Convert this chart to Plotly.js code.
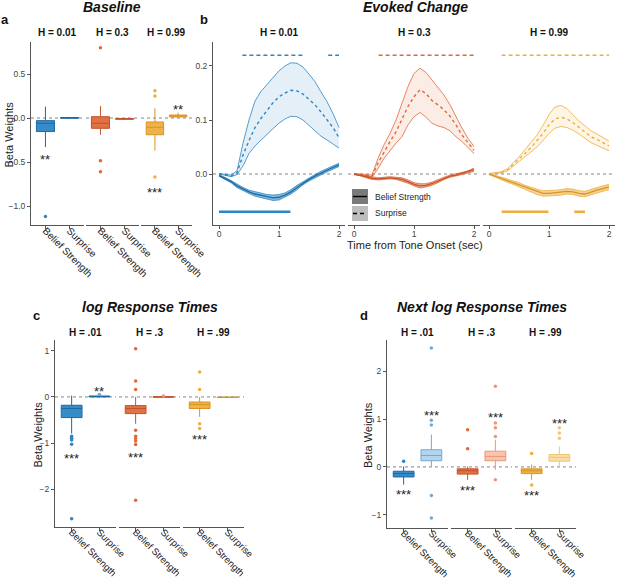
<!DOCTYPE html>
<html>
<head>
<meta charset="utf-8">
<script src="https://cdn.plot.ly/plotly-3.0.1.min.js"></script>
<style>html,body{margin:0;padding:0;background:#fff;}#chart{width:617px;height:578px;}</style>
</head>
<body>
<div id="chart"></div>
<script>
// ---------------- DATA ----------------
const hLabels = ['H = 0.01', 'H = 0.3', 'H = 0.99'];
const hLabelsRT = ['H = .01', 'H = .3', 'H = .99'];
const variables = ['Belief Strength', 'Surprise'];
const hColors = ['#2C86C4', '#E0693A', '#EEAE3E'];
const hLines = ['#1C6AA3', '#C2532A', '#D89425'];
const hLight = ['#B5D5EC', '#F5C5B0', '#F9DDA7'];
const hLightLine = ['#6FAAD6', '#EA9677', '#F2C66E'];

// Panel a: Baseline  -> per H: [Belief Strength, Surprise]
const baseLower = [[-0.33, -0.003], [-0.19, -0.018], [-0.37, 0.004]];
const baseQ1 = [[-0.154, -0.002], [-0.117, -0.014], [-0.19, 0.012]];
const baseMed = [[-0.06, 0.002], [-0.06, -0.010], [-0.105, 0.024]];
const baseQ3 = [[-0.03, 0.006], [0.015, -0.006], [-0.045, 0.034]];
const baseUpper = [[0.13, 0.009], [0.135, -0.003], [0.11, 0.06]];
const baseOut = [[[-1.12], []], [[0.80, -0.485, -0.61], []], [[0.31, 0.25, -0.67], []]];
const baseStars = [['**', ''], ['', ''], ['***', '**']];
const baseStarY = [[-0.44, 0], [0, 0], [-0.81, 0.13]];

// Panel b: Evoked change time courses
const timeSec = [0, 0.1, 0.2, 0.3, 0.4, 0.5, 0.6, 0.7, 0.8, 0.9, 1.0, 1.1, 1.2, 1.3, 1.4, 1.5, 1.6, 1.7, 1.8, 1.9, 2.0];
const surMean = [
  [0, -0.002, -0.004, 0.002, 0.035, 0.062, 0.086, 0.103, 0.118, 0.132, 0.143, 0.150, 0.155, 0.154, 0.148, 0.138, 0.128, 0.115, 0.101, 0.086, 0.067],
  [0, -0.001, -0.003, -0.004, 0.020, 0.041, 0.060, 0.078, 0.100, 0.125, 0.143, 0.156, 0.149, 0.136, 0.128, 0.119, 0.107, 0.091, 0.072, 0.057, 0.044],
  [0, 0.001, 0.003, 0.007, 0.017, 0.027, 0.038, 0.049, 0.061, 0.075, 0.091, 0.102, 0.105, 0.102, 0.095, 0.086, 0.078, 0.069, 0.064, 0.058, 0.052]
];
const surUpper = [
  [0.001, 0, -0.002, 0.006, 0.057, 0.100, 0.135, 0.153, 0.166, 0.179, 0.191, 0.200, 0.206, 0.205, 0.198, 0.185, 0.171, 0.152, 0.134, 0.112, 0.086],
  [0.001, 0, -0.002, -0.002, 0.029, 0.054, 0.075, 0.100, 0.131, 0.162, 0.186, 0.196, 0.188, 0.174, 0.162, 0.146, 0.128, 0.106, 0.085, 0.066, 0.051],
  [0.001, 0.002, 0.004, 0.009, 0.020, 0.032, 0.045, 0.058, 0.072, 0.090, 0.110, 0.124, 0.127, 0.121, 0.109, 0.098, 0.089, 0.080, 0.074, 0.067, 0.061]
];
const surLower = [
  [-0.001, -0.002, -0.005, -0.001, 0.015, 0.038, 0.052, 0.063, 0.073, 0.084, 0.094, 0.102, 0.107, 0.106, 0.100, 0.090, 0.080, 0.070, 0.063, 0.056, 0.048],
  [-0.001, -0.002, -0.004, -0.006, 0.010, 0.029, 0.044, 0.057, 0.069, 0.091, 0.106, 0.114, 0.105, 0.094, 0.089, 0.086, 0.080, 0.069, 0.060, 0.049, 0.038],
  [-0.001, 0, 0.002, 0.005, 0.014, 0.022, 0.031, 0.040, 0.050, 0.062, 0.075, 0.085, 0.088, 0.086, 0.081, 0.074, 0.066, 0.058, 0.053, 0.048, 0.043]
];
const belMean = [
  [-0.003, -0.008, -0.014, -0.022, -0.028, -0.033, -0.037, -0.040, -0.042, -0.044, -0.043, -0.039, -0.033, -0.025, -0.017, -0.010, -0.004, 0.002, 0.007, 0.012, 0.017],
  [0, -0.002, -0.005, -0.008, -0.009, -0.008, -0.007, -0.008, -0.010, -0.014, -0.019, -0.022, -0.021, -0.018, -0.013, -0.008, -0.004, -0.002, 0.001, 0.004, 0.008],
  [0, -0.004, -0.008, -0.012, -0.016, -0.020, -0.025, -0.029, -0.033, -0.036, -0.036, -0.035, -0.034, -0.032, -0.033, -0.036, -0.037, -0.033, -0.030, -0.027, -0.024]
];
const belSE = [
  [0.001, 0.002, 0.002, 0.003, 0.003, 0.003, 0.004, 0.004, 0.004, 0.005, 0.005, 0.004, 0.004, 0.004, 0.003, 0.003, 0.003, 0.003, 0.003, 0.003, 0.003],
  [0.001, 0.001, 0.002, 0.002, 0.002, 0.002, 0.002, 0.002, 0.003, 0.003, 0.003, 0.004, 0.003, 0.003, 0.003, 0.002, 0.002, 0.002, 0.002, 0.002, 0.003],
  [0.001, 0.002, 0.002, 0.003, 0.003, 0.004, 0.004, 0.004, 0.005, 0.005, 0.005, 0.005, 0.005, 0.005, 0.005, 0.005, 0.005, 0.005, 0.005, 0.005, 0.005]
];
const sigSur = [[[0.39, 1.39], [1.82, 2.0]], [[0.41, 2.0]], [[0.21, 2.0]]];
const sigBel = [[[0, 1.19]], [], [[0.21, 0.99], [1.42, 1.6]]];
const sigSurLevel = 0.22;
const sigBelLevel = -0.07;

// Panel c: log Response Times
const rtLower = [[-0.79, -0.005], [-0.58, -0.01], [-0.43, -0.02]];
const rtQ1 = [[-0.446, 0.0], [-0.36, -0.005], [-0.25, -0.012]];
const rtMed = [[-0.25, 0.01], [-0.25, 0.0], [-0.165, -0.008]];
const rtQ3 = [[-0.18, 0.02], [-0.187, 0.005], [-0.11, -0.004]];
const rtUpper = [[0.03, 0.03], [0.0, 0.01], [0.0, 0.0]];
const rtOut = [[[-0.85, -0.89, -0.93, -1.02, -2.63], [0.05]],
               [[1.04, 0.345, 0.16, -0.72, -0.85, -0.9, -0.95, -1.03, -2.23], [0.02]],
               [[0.54, 0.16, -0.58, -0.68], []]];
const rtStars = [['***', '**'], ['***', ''], ['***', '']];
const rtStarY = [[-1.26, 0.18], [-1.24, 0], [-0.86, 0]];

// Panel d: Next log Response Times
const nrtLower = [[-0.37, 0.01], [-0.27, -0.06], [-0.27, 0.01]];
const nrtQ1 = [[-0.21, 0.13], [-0.15, 0.13], [-0.14, 0.12]];
const nrtMed = [[-0.14, 0.24], [-0.08, 0.22], [-0.08, 0.20]];
const nrtQ3 = [[-0.09, 0.36], [-0.04, 0.33], [-0.04, 0.26]];
const nrtUpper = [[0.01, 0.68], [0.01, 0.57], [0.05, 0.43]];
const nrtOut = [[[0.12], [2.49, 0.98, 0.88, -0.6, -1.07]],
                [[0.78, 0.38], [1.69, 0.92, 0.82, 0.64, -0.27]],
                [[0.28, -0.38], [0.82, 0.71, 0.6]]];
const nrtStars = [['***', '***'], ['***', '***'], ['***', '***']];
const nrtStarY = [[-0.51, 1.15], [-0.44, 1.10], [-0.53, 0.97]];

// ---------------- LAYOUT HELPERS ----------------
const W = 617, H = 578;
const FONT = 'Liberation Sans, Arial, Helvetica, sans-serif';
const fx = p => p / W;
const fy = p => 1 - p / H;
const xName = n => n === 1 ? 'xaxis' : 'xaxis' + n;
const xRef = n => n === 1 ? 'x' : 'x' + n;
const yName = n => n === 1 ? 'yaxis' : 'yaxis' + n;
const yRef = n => n === 1 ? 'y' : 'y' + n;

const panels = [
  {letter: 'a', title: 'Baseline', kind: 'box', xs: [[31, 84], [86, 139], [141, 192]], ys: [42, 225], yr: [-1.216, 0.864],
   tv: [-1, -0.5, 0, 0.5], tf: '.1f', strips: hLabels, letterPos: [5, 20], titleX: 112, titleY: 7, stripY: 33, yTitleX: 9, tickSize: 10,
   lower: baseLower, q1: baseQ1, med: baseMed, q3: baseQ3, upper: baseUpper, out: baseOut, stars: baseStars, starY: baseStarY, lightSur: false},
  {letter: 'b', title: 'Evoked Change', kind: 'line', xs: [[213, 345], [348, 480], [483, 615]], ys: [42, 225], yr: [-0.0944, 0.2444],
   tv: [0, 0.1, 0.2], tf: '.1f', strips: hLabels, letterPos: [204, 20], titleX: 415, titleY: 7, stripY: 33},
  {letter: 'c', title: 'log Response Times', kind: 'box', xs: [[55, 116], [119, 180], [183, 244]], ys: [340, 527], yr: [-2.81, 1.23],
   tv: [-2, -1, 0, 1], tf: 'd', strips: hLabelsRT, letterPos: [36, 315], titleX: 150, titleY: 307, stripY: 333, yTitleX: 37, tickSize: 9.5,
   lower: rtLower, q1: rtQ1, med: rtMed, q3: rtQ3, upper: rtUpper, out: rtOut, stars: rtStars, starY: rtStarY, lightSur: false},
  {letter: 'd', title: 'Next log Response Times', kind: 'box', xs: [[387, 448], [451, 512], [515, 576]], ys: [340, 528], yr: [-1.28, 2.66],
   tv: [-1, 0, 1, 2], tf: 'd', strips: hLabelsRT, letterPos: [364, 315], titleX: 482, titleY: 307, stripY: 333, yTitleX: 368, tickSize: 9.5,
   lower: nrtLower, q1: nrtQ1, med: nrtMed, q3: nrtQ3, upper: nrtUpper, out: nrtOut, stars: nrtStars, starY: nrtStarY, lightSur: true}
];

const layout = {
  width: W, height: H, margin: {l: 0, r: 0, t: 0, b: 0},
  paper_bgcolor: '#fff', plot_bgcolor: 'rgba(0,0,0,0)',
  showlegend: false, hovermode: false, boxmode: 'overlay',
  font: {family: FONT, color: '#222'},
  shapes: [], annotations: []
};
const traces = [];

function rgba(hex, a) {
  const r = parseInt(hex.slice(1, 3), 16), g = parseInt(hex.slice(3, 5), 16), b = parseInt(hex.slice(5, 7), 16);
  return 'rgba(' + r + ',' + g + ',' + b + ',' + a + ')';
}

panels.forEach((P, pi) => {
  const yn = pi + 1;
  const yr = yRef(yn);
  const firstX = xRef(pi * 3 + 1);
  layout[yName(yn)] = {
    domain: [fy(P.ys[1]), fy(P.ys[0])], range: P.yr, anchor: firstX,
    showline: true, linecolor: '#555', linewidth: 1, ticks: 'outside', ticklen: 3, tickcolor: '#555',
    tickvals: P.tv, tickformat: P.tf, tickfont: {size: 8.5, color: '#444'},
    showgrid: false, zeroline: false, fixedrange: true
  };
  // panel title and letter
  layout.annotations.push({xref: 'paper', yref: 'paper', x: fx(P.titleX), y: fy(P.titleY), text: '<b><i>' + P.title + '</i></b>',
    showarrow: false, font: {size: 14, color: '#111'}, xanchor: 'center', yanchor: 'middle'});
  layout.annotations.push({xref: 'paper', yref: 'paper', x: fx(P.letterPos[0]), y: fy(P.letterPos[1]), text: '<b>' + P.letter + '</b>',
    showarrow: false, font: {size: 13, color: '#111'}, xanchor: 'center', yanchor: 'middle'});
  if (P.yTitleX !== undefined) {
    layout.annotations.push({xref: 'paper', yref: 'paper', x: fx(P.yTitleX), y: fy((P.ys[0] + P.ys[1]) / 2 + 1), text: 'Beta Weights',
      textangle: -90, showarrow: false, font: {size: 11, color: '#222'}, xanchor: 'center', yanchor: 'middle'});
  }

  for (let f = 0; f < 3; f++) {
    const xn = pi * 3 + f + 1;
    const xr = xRef(xn);
    const ax = {
      domain: [fx(P.xs[f][0]), fx(P.xs[f][1])], anchor: yr, type: 'linear',
      showline: true, linecolor: '#555', linewidth: 1, ticks: 'outside', ticklen: 3, tickcolor: '#555',
      showgrid: false, zeroline: false, fixedrange: true
    };
    if (P.kind === 'box') {
      Object.assign(ax, {range: [-0.6, 1.6], tickvals: [0, 1], ticktext: variables, tickangle: 45, ticklabelstandoff: -8,
        tickfont: {size: P.tickSize, color: '#222'}});
    } else {
      Object.assign(ax, {range: [-0.1, 2.1], tickvals: [0, 1, 2], ticklabelstandoff: -2, tickfont: {size: 8.5, color: '#444'}});
    }
    layout[xName(xn)] = ax;

    // strip label
    layout.annotations.push({xref: xr + ' domain', yref: 'paper', x: 0.5, y: fy(P.stripY), text: '<b>' + P.strips[f] + '</b>',
      showarrow: false, font: {size: 10, color: '#111'}, xanchor: 'center', yanchor: 'middle'});
    // dotted zero line
    layout.shapes.push({type: 'line', xref: xr + ' domain', x0: 0, x1: 1, yref: yr, y0: 0, y1: 0,
      line: {color: '#777', width: 0.9, dash: 'dot'}, layer: 'below'});

    if (P.kind === 'box') {
      for (let v = 0; v < 2; v++) {
        const light = P.lightSur && v === 1;
        const fill = light ? hLight[f] : rgba(hColors[f], 0.95);
        const lc = light ? hLightLine[f] : hLines[f];
        traces.push({
          type: 'box', xaxis: xr, yaxis: yr, x: [v],
          lowerfence: [P.lower[f][v]], q1: [P.q1[f][v]], median: [P.med[f][v]], q3: [P.q3[f][v]], upperfence: [P.upper[f][v]],
          width: 0.75, whiskerwidth: 0, fillcolor: fill, line: {color: lc, width: 1}, boxpoints: false, hoverinfo: 'skip'
        });
        const o = P.out[f][v];
        if (o.length) {
          traces.push({type: 'scatter', mode: 'markers', xaxis: xr, yaxis: yr, x: o.map(() => v), y: o,
            marker: {size: 3.5, color: (v === 1) ? hLightLine[f] : hColors[f]}, hoverinfo: 'skip'});
        }
        if (P.stars[f][v]) {
          layout.annotations.push({xref: xr, yref: yr, x: v, y: P.starY[f][v], text: P.stars[f][v], showarrow: false,
            font: {size: 13, color: '#222'}, xanchor: 'center', yanchor: 'middle', yshift: -3});
        }
      }
    } else {
      const c = hColors[f];
      // surprise ribbon
      traces.push({type: 'scatter', mode: 'lines', xaxis: xr, yaxis: yr, x: timeSec, y: surUpper[f],
        line: {color: c, width: 0.8}, hoverinfo: 'skip'});
      traces.push({type: 'scatter', mode: 'lines', xaxis: xr, yaxis: yr, x: timeSec, y: surLower[f], fill: 'tonexty',
        fillcolor: rgba(c, 0.13), line: {color: c, width: 0.8}, hoverinfo: 'skip'});
      traces.push({type: 'scatter', mode: 'lines', xaxis: xr, yaxis: yr, x: timeSec, y: surMean[f],
        line: {color: c, width: 1.4, dash: '3px,3px'}, hoverinfo: 'skip'});
      // belief strength ribbon
      const up = belMean[f].map((m, i) => m + belSE[f][i]);
      const lo = belMean[f].map((m, i) => m - belSE[f][i]);
      traces.push({type: 'scatter', mode: 'lines', xaxis: xr, yaxis: yr, x: timeSec, y: up,
        line: {color: c, width: 0.8}, hoverinfo: 'skip'});
      traces.push({type: 'scatter', mode: 'lines', xaxis: xr, yaxis: yr, x: timeSec, y: lo, fill: 'tonexty',
        fillcolor: rgba(c, 0.55), line: {color: c, width: 0.8}, hoverinfo: 'skip'});
      traces.push({type: 'scatter', mode: 'lines', xaxis: xr, yaxis: yr, x: timeSec, y: belMean[f],
        line: {color: hLines[f], width: 1.3}, hoverinfo: 'skip'});
      // significance bars
      sigSur[f].forEach(seg => traces.push({type: 'scatter', mode: 'lines', xaxis: xr, yaxis: yr, x: seg, y: [sigSurLevel, sigSurLevel],
        line: {color: c, width: 1.6, dash: '4px,3px'}, hoverinfo: 'skip'}));
      sigBel[f].forEach(seg => traces.push({type: 'scatter', mode: 'lines', xaxis: xr, yaxis: yr, x: seg, y: [sigBelLevel, sigBelLevel],
        line: {color: c, width: 2.6}, hoverinfo: 'skip'}));
    }
  }
});

// Panel b x-axis title
layout.annotations.push({xref: 'paper', yref: 'paper', x: fx(415), y: fy(245), text: 'Time from Tone Onset (sec)',
  showarrow: false, font: {size: 11, color: '#222'}, xanchor: 'center', yanchor: 'middle'});

// Panel b legend (keys drawn as shapes)
const legendItems = [{label: 'Belief Strength', fill: '#7a7a7a', dash: 'solid', y: 189}, {label: 'Surprise', fill: '#bdbdbd', dash: '4px,3px', y: 206}];
legendItems.forEach(it => {
  layout.shapes.push({type: 'rect', xref: 'paper', yref: 'paper', x0: fx(352), x1: fx(368), y0: fy(it.y + 15), y1: fy(it.y),
    fillcolor: it.fill, line: {width: 0}});
  layout.shapes.push({type: 'line', xref: 'paper', yref: 'paper', x0: fx(353), x1: fx(367), y0: fy(it.y + 7.5), y1: fy(it.y + 7.5),
    line: {color: '#000', width: 1.4, dash: it.dash}});
  layout.annotations.push({xref: 'paper', yref: 'paper', x: fx(373), y: fy(it.y + 7.5), text: it.label, showarrow: false,
    font: {size: 8.5, color: '#222'}, xanchor: 'left', yanchor: 'middle'});
});

Plotly.newPlot('chart', traces, layout, {displayModeBar: false, staticPlot: true});
</script>
</body>
</html>
